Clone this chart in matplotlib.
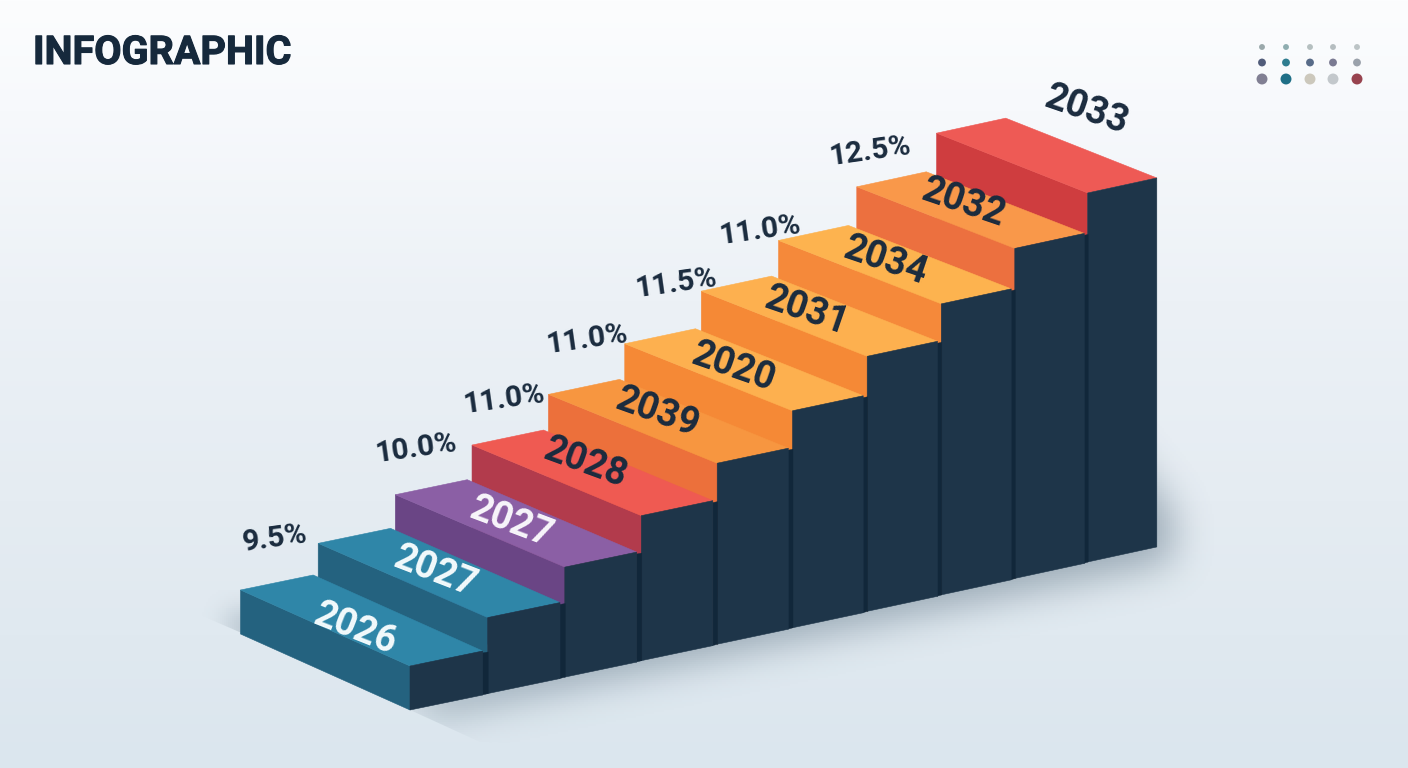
#!/usr/bin/env python3
# -*- coding: utf-8 -*-

import matplotlib
matplotlib.use('Agg')
import matplotlib.pyplot as plt
import matplotlib.patheffects as pe
import numpy as np
from matplotlib.patches import Polygon
from matplotlib.path import Path
from matplotlib.patches import PathPatch

plt.rcParams['font.family'] = ['Roboto', 'DejaVu Sans']

years = ['2026', '2027', '2027', '2028', '2039', '2020', '2031', '2034', '2032', '2033']
step_height = [44, 76, 110, 145, 181, 217, 255, 291, 330, 369]
top_colors = ['#2f86a8', '#2f86a8', '#8b5fa5', '#ef5a52', '#f79640',
              '#fdb04f', '#fdb04f', '#fdb34f', '#f9984a', '#ee5a55']
side_colors = ['#24627f', '#24627f', '#6a4585', '#b23b4c', '#ec703b',
               '#f58936', '#f58936', '#f5893a', '#ec703f', '#cf3d3f']
label_colors = ['#f3fafc', '#f3fafc', '#f8f6fb', '#1a2b3e', '#1a2b3e',
                '#1a2b3e', '#1a2b3e', '#1a2b3e', '#1a2b3e', '#1a2b3e']

pct_labels = ['9.5%', '10.0%', '11.0%', '11.0%', '11.5%', '11.0%', '12.5%']
pct_steps = [1, 3, 4, 5, 6, 7, 9]

dot_colors = [['#9aa8ab', '#8fadb0', '#b5bfc0', '#b5bdc0', '#bcc4c6'],
              ['#515c7a', '#2f7d90', '#586b88', '#7a7a92', '#9aa1ab'],
              ['#817f93', '#1f6f87', '#ccc8bc', '#c3c8cc', '#98434f']]

DARK = '#1e3549'
GAP = '#11273a'
TEXT = '#1a2b3e'


def step_geom(i):
    xl = 410 + 78 * i - 0.3 * i ** 2
    w = 72.7 - 0.4 * i
    base = 710 - 16.45 * i
    top = base - step_height[i]
    dx = 169.5 - 0.0028 * i ** 4
    dy = 76 - 1.8 * i
    return xl, w, base, top, dx, dy


def blur(a, r, n=3):
    kernel = np.ones(2 * r + 1) / (2 * r + 1)
    for _ in range(n):
        a = np.apply_along_axis(lambda m: np.convolve(m, kernel, mode='same'), 0, a)
        a = np.apply_along_axis(lambda m: np.convolve(m, kernel, mode='same'), 1, a)
    return a


def soft_shadow(ax, pts, r, alpha, clip_pts, color=(0.33, 0.42, 0.49)):
    yy, xx = np.mgrid[0:768:2, 0:1408:2]
    grid = np.column_stack([xx.ravel(), yy.ravel()])
    mask = Path(pts).contains_points(grid).reshape(xx.shape).astype(float)
    mask = blur(mask, r)
    rgba = np.zeros(mask.shape + (4,))
    rgba[..., :3] = color
    rgba[..., 3] = mask * alpha
    im = ax.imshow(rgba, extent=(0, 1408, 768, 0), zorder=1, aspect='auto')
    patch = PathPatch(Path(clip_pts + [clip_pts[0]]), transform=ax.transData, fc='none', ec='none')
    ax.add_patch(patch)
    im.set_clip_path(patch)


def plot():
    fig = plt.figure(figsize=(14.08, 7.68), dpi=100)
    ax = fig.add_axes([0, 0, 1, 1])

    # background
    stops_y = [0, 110, 300, 500, 768]
    stops_c = np.array([[252, 253, 254], [247, 249, 252], [236, 241, 246], [229, 236, 242], [219, 230, 238]]) / 255
    yy = np.arange(768)
    bg = np.stack([np.interp(yy, stops_y, stops_c[:, k]) for k in range(3)], axis=1)[:, None, :]
    ax.imshow(bg, extent=(0, 1408, 768, 0), aspect='auto', zorder=0)

    # shadows on the floor
    xl0, _, base0, _, _, _ = step_geom(0)
    xl9, w9, base9, _, _, _ = step_geom(9)
    floor = [(xl0, base0 - 20), (xl0 + 20, base0 + 4), (xl9 + w9 + 14, base9 - 2),
             (xl9 + w9 + 14, base9 - 50), (xl9 + w9 - 40, base9 - 120)]
    clip = [(xl0, base0), (xl0 + 70, base0 + 32), (1408, 768), (1408, 0), (xl0, 0)]
    soft_shadow(ax, floor, 9, 0.52, clip)
    wedge = [(228, 612), (262, 612), (262, 650), (228, 630)]
    clip2 = [(200, 615), (241.7, 633), (241.7, 590), (200, 590)]
    soft_shadow(ax, wedge, 6, 0.42, clip2)

    # back to front so the lower steps cover the risers
    for i in range(len(years) - 1, -1, -1):
        xl, w, base, top, dx, dy = step_geom(i)
        side = [(xl - dx, top - dy), (xl, top), (xl, base), (xl - dx, base - dy)]
        face = [(xl - dx, top - dy), (xl - dx + w, top - dy - 15), (xl + w, top - 15), (xl, top)]
        front = [(xl, top), (xl + w, top - 15), (xl + w, base - 15), (xl, base)]
        z = 2 + len(years) - i
        ax.add_patch(Polygon(side, fc=side_colors[i], ec=side_colors[i], lw=0.4, zorder=z))
        ax.add_patch(Polygon(face, fc=top_colors[i], ec=top_colors[i], lw=0.4, zorder=z))
        if i < len(years) - 1:
            nx, _, nbase, _, _, _ = step_geom(i + 1)
            strip = [(xl + w - 0.5, top - 13), (nx + 0.5, top - 14), (nx + 0.5, nbase), (xl + w - 0.5, base - 15)]
            ax.add_patch(Polygon(strip, fc=GAP, ec=GAP, lw=0.3, zorder=z))
        ax.add_patch(Polygon(front, fc=DARK, ec=DARK, lw=0.4, zorder=z))

    # year labels on the treads
    label_off = [(-6, 9), (-4, -1), (-4, -1), (-7, -10), (-11, -9), (-10, -3), (-13, -5), (-9, -4), (-7, -7), (40, -45)]
    for i, year in enumerate(years):
        xl, w, base, top, dx, dy = step_geom(i)
        cx = xl + w / 2 - dx / 2
        cy = top - 7.5 - dy / 2
        off_x, off_y = label_off[i]
        ax.text(cx + off_x, cy + off_y, year, color=label_colors[i], fontsize=27, fontweight='bold',
                rotation=-np.degrees(np.arctan2(dy, dx)) + 2.5, rotation_mode='anchor',
                ha='center', va='center', zorder=30)

    # percent labels left of the steps
    pct_off = [(-43, -5), (-56, 3), (-44, 5), (-38, -4), (-25, -8), (-18, -10), (-66, 18)]
    for lab, s, (ox, oy) in zip(pct_labels, pct_steps, pct_off):
        xl, w, base, top, dx, dy = step_geom(s)
        ax.text(xl - dx + ox, top - dy + oy, lab, color=TEXT, fontsize=21.5, fontweight='bold',
                rotation=8, rotation_mode='anchor', ha='center', va='center', zorder=30)

    ax.text(33, 53, 'INFOGRAPHIC', color='#16293c', fontsize=28.5, fontweight='bold',
            ha='left', va='center', zorder=30,
            path_effects=[pe.withStroke(linewidth=0.8, foreground='#16293c')])

    # dots top right
    dot_x = [1262, 1286, 1310, 1333, 1357]
    dot_y = [47, 62.5, 79]
    dot_s = [18, 32, 62]
    for row, y in enumerate(dot_y):
        ax.scatter(dot_x, [y] * 5, s=dot_s[row], c=dot_colors[row], linewidths=0, zorder=30)

    ax.set_xlim(0, 1408)
    ax.set_ylim(768, 0)
    ax.axis('off')
    fig.savefig('out.png', dpi=100)


if __name__ == '__main__':
    plot()
